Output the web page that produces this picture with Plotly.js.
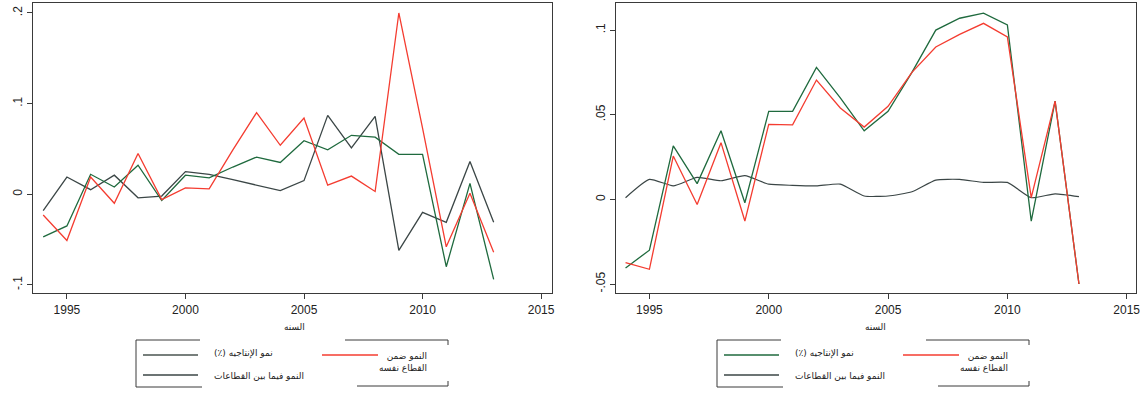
<!DOCTYPE html>
<html>
<head>
<meta charset="utf-8">
<script src="https://cdn.plot.ly/plotly-3.0.1.min.js"></script>
<style>html,body{margin:0;padding:0;background:#fff;}#chart{width:1148px;height:394px;}</style>
</head>
<body>
<div id="chart"></div>
<script>
// ---- data ----
const years = [1994,1995,1996,1997,1998,1999,2000,2001,2002,2003,2004,2005,2006,2007,2008,2009,2010,2011,2012,2013];

// left panel
const leftTotal   = [-0.047,-0.035,0.022,0.008,0.032,-0.007,0.021,0.018,0.030,0.041,0.035,0.059,0.049,0.065,0.063,0.044,0.044,-0.080,0.012,-0.094];
const leftWithin  = [-0.023,-0.051,0.019,-0.010,0.045,-0.006,0.007,0.006,0.049,0.090,0.054,0.084,0.010,0.020,0.003,0.200,0.073,-0.058,0.001,-0.064];
const leftBetween = [-0.018,0.019,0.005,0.021,-0.004,-0.002,0.025,0.022,0.016,0.010,0.004,0.015,0.087,0.051,0.086,-0.062,-0.020,-0.031,0.036,-0.031];

// right panel
const rightTotal   = [-0.0405,-0.030,0.0316,0.0093,0.0405,-0.002,0.052,0.052,0.078,0.060,0.0405,0.052,0.075,0.100,0.107,0.110,0.103,-0.0128,0.058,-0.050];
const rightWithin  = [-0.0374,-0.0413,0.0256,-0.003,0.0335,-0.0128,0.0443,0.044,0.0705,0.054,0.0427,0.055,0.075,0.090,0.0975,0.104,0.096,0.001,0.058,-0.050];
const rightBetween = [0.001,0.0118,0.008,0.013,0.011,0.014,0.009,0.0083,0.008,0.009,0.002,0.002,0.0045,0.0114,0.0118,0.010,0.010,0.001,0.0033,0.0016];

// tick labels
const xTickVals = [1995,2000,2005,2010,2015];
const xTickText = ['1995','2000','2005','2010','2015'];
const leftYTickVals = [-0.1,0,0.1,0.2];
const leftYTickText = ['-.1','0','.1','.2'];
const rightYTickVals = [-0.05,0,0.05,0.1];
const rightYTickText = ['-.05','0','.05','.1'];

// labels (RLM keeps the parenthesis on the right-to-left side)
const nameTotal = 'نمو الإنتاجيه (٪)\u200F';
const nameBetween = 'النمو فيما بين القطاعات';
const nameWithin = 'النمو ضمن<br>القطاع نفسه';
const xTitle = 'السنه';

// ---- styles ----
const W = 1148, H = 394;
const cGreen = '#1f6a3e', cRed = '#f43c30', cDark = '#3b4646';
const axisColor = '#3a3a3a';
const tickFont = {family: 'Liberation Sans, Arial, sans-serif', size: 12, color: '#222'};
const arFont = {family: 'DejaVu Sans, Noto Sans, sans-serif', size: 9, color: '#222'};

function trace(y, xa, ya, color, extra) {
  return Object.assign({x: years, y: y, xaxis: xa, yaxis: ya, type: 'scatter', mode: 'lines',
    line: {color: color, width: 1.3}, hoverinfo: 'skip', showlegend: false}, extra || {});
}

const data = [
  trace(leftBetween, 'x', 'y', cDark),
  trace(leftTotal, 'x', 'y', cGreen),
  trace(leftWithin, 'x', 'y', cRed),
  trace(rightBetween, 'x2', 'y2', cDark, {line: {color: cDark, width: 1.2, shape: 'spline', smoothing: 0.5}}),
  trace(rightTotal, 'x2', 'y2', cGreen),
  trace(rightWithin, 'x2', 'y2', cRed)
];

const px = v => v / W;
const py = v => 1 - v / H;

function axisBase() {
  return {showgrid: false, zeroline: false, showline: true, mirror: true, linecolor: axisColor, linewidth: 1.2,
    ticks: 'outside', ticklen: 5, tickcolor: axisColor, tickwidth: 1, tickfont: tickFont, fixedrange: true};
}

const layout = {
  width: W, height: H, autosize: false,
  margin: {l: 0, r: 0, t: 0, b: 0},
  paper_bgcolor: '#ffffff', plot_bgcolor: '#ffffff',
  showlegend: false,
  xaxis: Object.assign(axisBase(), {domain: [px(33), px(552)], range: [1993.57, 2015.46], tickvals: xTickVals, ticktext: xTickText, anchor: 'y'}),
  yaxis: Object.assign(axisBase(), {domain: [py(293), py(3)], range: [-0.109, 0.211], tickvals: leftYTickVals, ticktext: leftYTickText, tickangle: -90, anchor: 'x'}),
  xaxis2: Object.assign(axisBase(), {domain: [px(616), px(1136)], range: [1993.6, 2015.39], tickvals: xTickVals, ticktext: xTickText, anchor: 'y2'}),
  yaxis2: Object.assign(axisBase(), {domain: [py(293), py(3)], range: [-0.0553, 0.116], tickvals: rightYTickVals, ticktext: rightYTickText, tickangle: -90, anchor: 'x2'}),
  shapes: [],
  annotations: []
};

function seg(x0, y0, x1, y1, color, width) {
  return {type: 'line', xref: 'paper', yref: 'paper', x0: px(x0), y0: py(y0), x1: px(x1), y1: py(y1),
    line: {color: color, width: width}};
}
function txt(x, y, text, xanchor, align) {
  return {xref: 'paper', yref: 'paper', x: px(x), y: py(y), text: text, showarrow: false,
    xanchor: xanchor, yanchor: 'middle', align: align || 'left', font: arFont};
}

[0, 581].forEach((o, i) => {
  const keyTotal = i === 0 ? '#4a5550' : cGreen;
  // legend box (broken frame)
  layout.shapes.push(seg(136 + o, 340, 200 + o, 340, axisColor, 1));
  layout.shapes.push(seg(136 + o, 340, 136 + o, 387, axisColor, 1));
  layout.shapes.push(seg(136 + o, 387, 202 + o, 387, axisColor, 1));
  layout.shapes.push(seg(345 + o, 340, 448 + o, 340, axisColor, 1));
  layout.shapes.push(seg(448 + o, 340, 448 + o, 345, axisColor, 1));
  layout.shapes.push(seg(357 + o, 386, 448 + o, 386, axisColor, 1));
  layout.shapes.push(seg(448 + o, 381, 448 + o, 386, axisColor, 1));
  // legend keys
  layout.shapes.push(seg(143 + o, 355, 198 + o, 355, keyTotal, 1.6));
  layout.shapes.push(seg(143 + o, 375, 198 + o, 375, cDark, 1.6));
  layout.shapes.push(seg(322 + o, 355, 378 + o, 355, cRed, 1.6));
  // legend texts
  layout.annotations.push(txt(212 + o, 353, nameTotal, 'left'));
  layout.annotations.push(txt(212 + o, 376, nameBetween, 'left'));
  layout.annotations.push(txt(429 + o, 362, nameWithin, 'right', 'right'));
  // x title
  layout.annotations.push(txt(294 + o, 327, xTitle, 'center', 'center'));
});

Plotly.newPlot('chart', data, layout, {displayModeBar: false, staticPlot: true});
</script>
</body>
</html>
